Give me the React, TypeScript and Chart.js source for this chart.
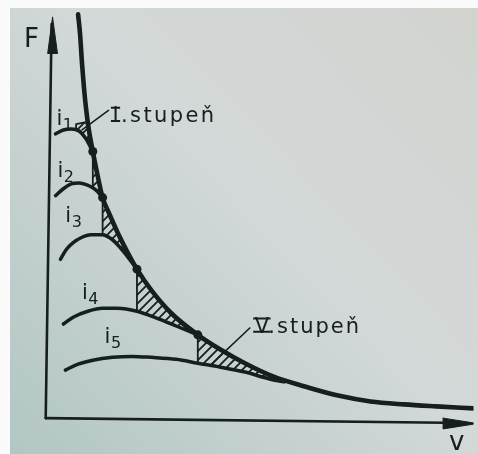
import { useEffect, useRef } from 'react';
import { Chart, registerables } from 'chart.js';

Chart.register(...registerables);

type P = [number, number];

// v (speed) / F (force) values, arbitrary units
const ENVELOPE: P[] = [
  [33, 412], [35, 392], [37, 362], [39, 337], [41, 317], [44, 294], [48, 272],
  [53, 247], [58, 225], [65, 208], [73, 190], [83, 170], [93, 152], [108, 130],
  [128, 107], [155, 85], [178, 70], [203, 56], [233, 42], [265, 32], [298, 23],
  [331, 17], [365, 14], [398, 12], [436, 10],
];
const GEAR_1: P[] = [[10, 290], [18, 294], [26, 295], [34, 293], [41, 285], [48, 272]];
const GEAR_2: P[] = [[10, 227], [18, 234], [26, 239], [34, 240], [42, 238], [48, 235], [53, 231], [58, 225]];
const GEAR_3: P[] = [[15, 162], [21, 172], [28, 179], [36, 184], [46, 187], [58, 187], [68, 182], [75, 175], [84, 164], [93, 152]];
const GEAR_4: P[] = [[18, 96], [28, 103], [43, 109], [58, 112], [73, 112], [93, 109], [113, 102], [133, 94], [155, 85]];
const GEAR_5: P[] = [[20, 49], [33, 55], [48, 59], [68, 62], [88, 63], [108, 62], [133, 60], [155, 56], [178, 52], [203, 47], [228, 40], [243, 37]];
const GEARS = [GEAR_1, GEAR_2, GEAR_3, GEAR_4, GEAR_5];

const SHIFT_POINTS: P[] = [[48, 272], [58, 225], [93, 152], [155, 85]];

const HATCH_1: P[] = [[31, 300], [41, 302], [44, 294], [48, 272], [41, 285], [34, 293], [31, 294], [31, 300]];
const HATCH_2: P[] = [[48, 272], [53, 247], [58, 225], [53, 231], [48, 235], [48, 272]];
const HATCH_3: P[] = [[58, 225], [65, 208], [73, 190], [83, 170], [93, 152], [84, 164], [75, 175], [68, 182], [58, 187], [58, 225]];
const HATCH_4: P[] = [[93, 152], [108, 130], [128, 107], [155, 85], [133, 94], [113, 102], [93, 109], [93, 152]];
const HATCH_5: P[] = [[155, 85], [178, 70], [203, 56], [228, 44], [243, 39], [228, 40], [203, 47], [178, 52], [155, 56], [155, 85]];
const HATCHES = [HATCH_1, HATCH_2, HATCH_3, HATCH_4, HATCH_5];

const LEADER_I: P[] = [[64, 314], [37, 294]];
const LEADER_V: P[] = [[208, 92], [168, 54]];

const AXIS_F: P[] = [[6, 402], [0, 0]];
const AXIS_V: P[] = [[0, 0], [428, -5]];
const ARROW_F: P[] = [[7, 409], [2, 372], [12, 372], [7, 409]];
const ARROW_V: P[] = [[405, 0], [440, -5.5], [405, -11], [405, 0]];

type Label = { text: string; v: number; f: number; size: number; spacing?: number; numeral?: boolean; sub?: string };
const LABELS: Label[] = [
  { text: 'F', v: -22, f: 379, size: 26 },
  { text: 'v', v: 411, f: -33, size: 26 },
  { text: 'I.stupeň', v: 68, f: 302, size: 21, spacing: 2.4, numeral: true },
  { text: 'V.stupeň', v: 213, f: 87, size: 21, spacing: 2.0, numeral: true },
  { text: 'i', sub: '1', v: 11, f: 299, size: 21 },
  { text: 'i', sub: '2', v: 12, f: 246, size: 21 },
  { text: 'i', sub: '3', v: 20, f: 200, size: 21 },
  { text: 'i', sub: '4', v: 37, f: 122, size: 21 },
  { text: 'i', sub: '5', v: 60, f: 77, size: 21 },
];

const INK = '#161e1e';
const FONT = '"DejaVu Sans", sans-serif';

const toXY = (pts: P[]) => pts.map(([x, y]) => ({ x, y }));

function makeHatch(): CanvasPattern | string {
  const c = document.createElement('canvas');
  const s = 9;
  c.width = s;
  c.height = s;
  const g = c.getContext('2d');
  if (!g) return INK;
  g.strokeStyle = INK;
  g.lineWidth = 1.8;
  g.beginPath();
  g.moveTo(0, s);
  g.lineTo(s, 0);
  g.moveTo(-1, 1);
  g.lineTo(1, -1);
  g.moveTo(s - 1, s + 1);
  g.lineTo(s + 1, s - 1);
  g.stroke();
  return g.createPattern(c, 'repeat') || INK;
}

const backgroundPlugin = {
  id: 'paper',
  beforeDraw(chart: any) {
    const { ctx, width, height } = chart;
    ctx.save();
    ctx.fillStyle = '#fbfbfb';
    ctx.fillRect(0, 0, width, height);
    const g = ctx.createLinearGradient(width, 0, 0, height);
    g.addColorStop(0, '#d2d3cf');
    g.addColorStop(0.45, '#d3d9d8');
    g.addColorStop(1, '#b1c6c3');
    ctx.fillStyle = g;
    ctx.fillRect(10, 8, width - 10, height - 8);
    ctx.restore();
  },
};

const labelPlugin = {
  id: 'labels',
  afterDatasetsDraw(chart: any) {
    const { ctx } = chart;
    const xs = chart.scales.x;
    const ys = chart.scales.y;
    ctx.save();
    ctx.fillStyle = INK;
    ctx.strokeStyle = INK;
    ctx.textAlign = 'left';
    ctx.textBaseline = 'alphabetic';
    for (const l of LABELS) {
      const px = xs.getPixelForValue(l.v);
      const py = ys.getPixelForValue(l.f);
      ctx.font = `${l.size}px ${FONT}`;
      (ctx as any).letterSpacing = `${l.spacing || 0}px`;
      ctx.fillText(l.text, px, py);
      if (l.numeral) {
        (ctx as any).letterSpacing = '0px';
        const w = ctx.measureText(l.text[0]).width;
        const top = py - l.size * 0.73;
        ctx.lineWidth = 2;
        ctx.beginPath();
        ctx.moveTo(px - 1.5, top + 1);
        ctx.lineTo(px + w + 1.5, top + 1);
        ctx.moveTo(px - 1.5, py - 1);
        ctx.lineTo(px + w + 1.5, py - 1);
        ctx.stroke();
      }
      if (l.sub) {
        const w = ctx.measureText(l.text).width;
        ctx.font = `${Math.round(l.size * 0.75)}px ${FONT}`;
        ctx.fillText(l.sub, px + w + 0.5, py + 5);
      }
    }
    ctx.restore();
  },
};

export default function App() {
  const ref = useRef<HTMLCanvasElement | null>(null);

  useEffect(() => {
    if (!ref.current) return;
    const hatch = makeHatch();
    const line = (pts: P[], width: number, order = 1, extra: any = {}) => ({
      data: toXY(pts),
      showLine: true,
      borderColor: INK,
      borderWidth: width,
      pointRadius: 0,
      fill: false,
      borderCapStyle: 'round',
      borderJoinStyle: 'round',
      order,
      ...extra,
    });

    const datasets: any[] = [
      ...HATCHES.map((h) => line(h, 1.8, 4, { tension: 0, fill: 'shape', backgroundColor: hatch })),
      line(AXIS_F, 2.6, 2, { tension: 0 }),
      line(AXIS_V, 2.6, 2, { tension: 0 }),
      line(ARROW_F, 1, 2, { tension: 0, fill: 'shape', backgroundColor: INK }),
      line(ARROW_V, 1, 2, { tension: 0, fill: 'shape', backgroundColor: INK }),
      line(LEADER_I, 1.6, 2, { tension: 0 }),
      line(LEADER_V, 1.6, 2, { tension: 0 }),
      ...GEARS.map((g) => line(g, 3.5, 1, { cubicInterpolationMode: 'monotone' })),
      line(ENVELOPE, 4.6, 1, { cubicInterpolationMode: 'monotone' }),
      {
        data: toXY(SHIFT_POINTS),
        showLine: false,
        pointRadius: 4.5,
        pointBackgroundColor: INK,
        pointBorderWidth: 0,
        order: 0,
      },
    ];

    const chart = new Chart(ref.current, {
      type: 'scatter',
      data: { datasets },
      options: {
        animation: false,
        responsive: false,
        maintainAspectRatio: false,
        events: [],
        layout: { padding: 0 },
        plugins: { legend: { display: false }, tooltip: { enabled: false } },
        scales: {
          x: { type: 'linear', min: -42, max: 436, display: false },
          y: { type: 'linear', min: -32, max: 422, display: false },
        },
      },
      plugins: [backgroundPlugin, labelPlugin],
    } as any);
    return () => chart.destroy();
  }, []);

  return (
    <div style={{ position: 'fixed', left: 0, top: 0, width: 478, height: 454 }}>
      <canvas ref={ref} width={478} height={454} style={{ display: 'block', width: 478, height: 454 }} />
    </div>
  );
}
